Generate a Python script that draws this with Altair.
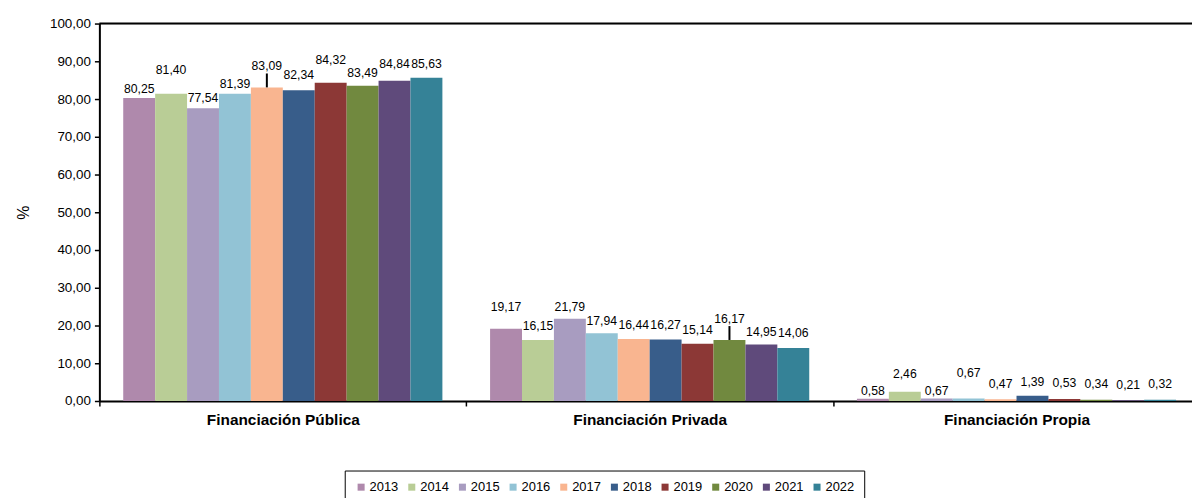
import altair as alt
import pandas as pd

categories = ["Financiación Pública", "Financiación Privada", "Financiación Propia"]
years = ["2013", "2014", "2015", "2016", "2017", "2018", "2019", "2020", "2021", "2022"]
publica = [80.25, 81.40, 77.54, 81.39, 83.09, 82.34, 84.32, 83.49, 84.84, 85.63]
privada = [19.17, 16.15, 21.79, 17.94, 16.44, 16.27, 15.14, 16.17, 14.95, 14.06]
propia = [0.58, 2.46, 0.67, 0.67, 0.47, 1.39, 0.53, 0.34, 0.21, 0.32]
y_ticks = [0, 10, 20, 30, 40, 50, 60, 70, 80, 90, 100]
colors = ["#AF89AC", "#B9CD96", "#A89CC0", "#92C3D5", "#F9B590",
          "#385D8A", "#8C3836", "#71893F", "#5F4A7B", "#358297"]

# label lift above bar top (pixels), and which labels carry a leader line
lift_publica = [9, 24, 10, 10, 21, 15, 23, 13, 17, 14]
lift_privada = [22, 14, 12, 12, 14, 15, 14, 21, 13, 15]
lift_propia = [8, 18, 7, 26, 15, 14, 16, 16, 15, 16]
leader_publica = [0, 0, 0, 0, 1, 0, 0, 0, 0, 0]
leader_privada = [0, 0, 0, 0, 0, 0, 0, 1, 0, 0]
leader_propia = [0] * 10

rows = []
for cat, vals, lifts, leads in [
    (categories[0], publica, lift_publica, leader_publica),
    (categories[1], privada, lift_privada, leader_privada),
    (categories[2], propia, lift_propia, leader_propia),
]:
    for y, v, l, ld in zip(years, vals, lifts, leads):
        rows.append({"cat": cat, "year": y, "value": v, "lift": l, "leader": ld})
df = pd.DataFrame(rows)

PX = 3.8  # pixels per unit (height 380 for 0..100)
H = 380
W = 1108
P_IN = 0.13
P_OUT = 0.065
STEP = W / (3 - P_IN + 2 * P_OUT)

x_enc = alt.X("cat:N", sort=categories, title=None,
              scale=alt.Scale(paddingInner=P_IN, paddingOuter=P_OUT),
              axis=alt.Axis(labelFont="Liberation Sans", labelFontWeight="bold",
                            labelFontSize=15.5, labelColor="black", labelPadding=7,
                            tickOffset=-STEP / 2, labelOffset=STEP / 2,
                            tickSize=5, tickColor="black", tickWidth=1.5,
                            domainColor="black", domainWidth=2, labelAngle=0))
xo_enc = alt.XOffset("year:N", sort=years)
y_scale = alt.Scale(domain=[0, 100], nice=False)
y_axis = alt.Axis(values=y_ticks, labelOverlap=False, labelSeparation=0, format=".2f",
                  labelFont="Liberation Sans", labelFontSize=13.5, labelColor="black",
                  labelPadding=4, labelFlush=False,
                  tickSize=5, tickColor="black", tickWidth=1.5,
                  domainColor="black", domainWidth=2,
                  grid=False, titleFont="Liberation Sans", titleFontSize=16,
                  titleFontWeight="normal", titleColor="black", titlePadding=18)

base = alt.Chart(df)

bars = base.mark_bar().encode(
    x=x_enc, xOffset=xo_enc,
    y=alt.Y("value:Q", scale=y_scale, title="%", axis=y_axis),
    color=alt.Color("year:N", sort=years, title=None,
                    scale=alt.Scale(domain=years, range=colors),
                    legend=alt.Legend(orient="none", legendX=247, legendY=450,
                                      direction="horizontal", columns=10,
                                      symbolType="square", symbolSize=50,
                                      symbolStrokeWidth=0, labelFont="Liberation Sans",
                                      labelFontSize=13, labelColor="black",
                                      columnPadding=7, labelOffset=2,
                                      padding=10, strokeColor="black",
                                      fillColor="white")),
)

labels = base.transform_calculate(
    ly=f"datum.value + datum.lift / {PX}"
).mark_text(font="Liberation Sans", fontSize=12.3, color="black", baseline="middle").encode(
    x=x_enc, xOffset=xo_enc,
    y=alt.Y("ly:Q", scale=y_scale, title="%", axis=y_axis),
    text=alt.Text("value:Q", format=".2f"),
)

leaders = base.transform_filter("datum.leader == 1").transform_calculate(
    ly=f"datum.value + (datum.lift - 7) / {PX}"
).mark_rule(color="black", strokeWidth=2).encode(
    x=x_enc, xOffset=xo_enc,
    y=alt.Y("value:Q", scale=y_scale, title="%", axis=y_axis),
    y2="ly:Q",
)

top = alt.Chart(pd.DataFrame({"v": [100]})).mark_rule(color="black", strokeWidth=2).encode(
    y=alt.Y("v:Q", scale=y_scale, title="%", axis=y_axis)
)

chart = alt.layer(bars, leaders, labels, top).properties(
    width=W, height=H,
    autosize=alt.AutoSizeParams(type="none"),
    padding={"top": 14, "left": 92, "right": -8, "bottom": 96},
).configure_view(stroke=None).configure_axisY(labelOverlap=False).configure(background="white")

chart.save("out.html", embed_options={
    "renderer": "svg", "actions": False,
    "formatLocale": {"decimal": ",", "thousands": ".", "grouping": [3], "currency": ["", " €"]},
})
